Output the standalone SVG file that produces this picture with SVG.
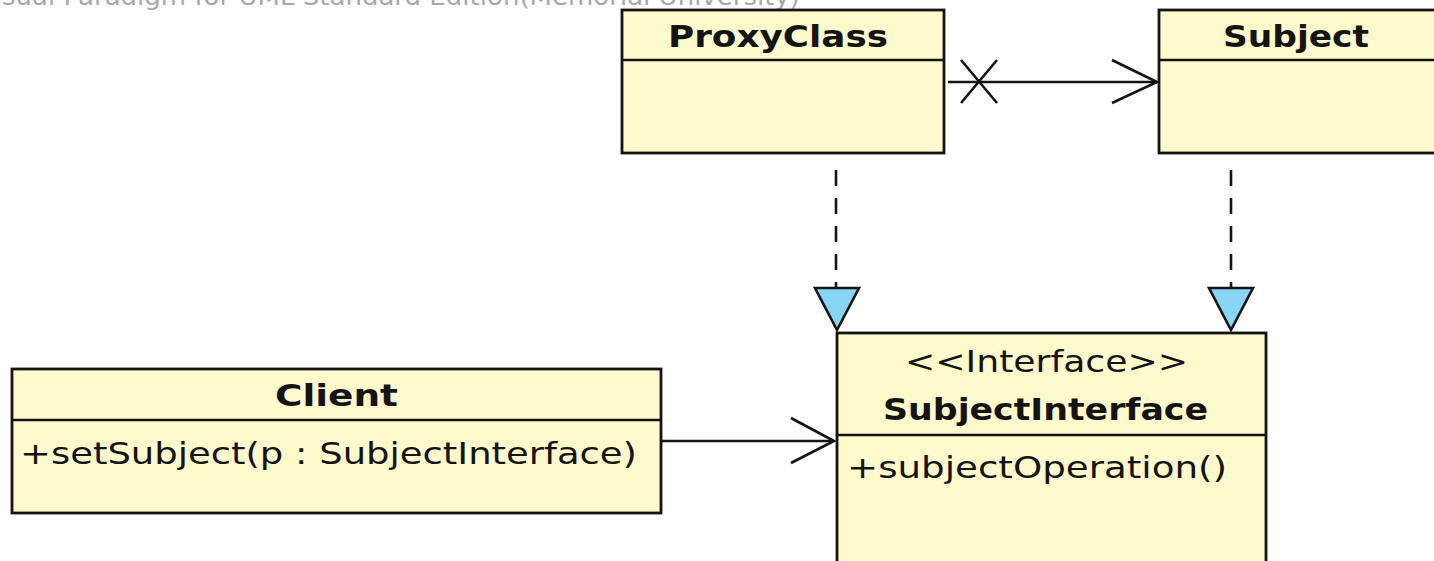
<svg xmlns="http://www.w3.org/2000/svg" width="1434" height="561" viewBox="0 0 1434 561">
  <defs>
    <style>
      .box { fill: #fffacb; stroke: #141414; stroke-width: 2.8; }
      .div { stroke: #141414; stroke-width: 2.5; }
      .t { font-family: "DejaVu Sans Condensed", "DejaVu Sans", sans-serif; font-size: 31px; fill: #141414; }
      .b { font-weight: bold; }
      .edge { fill: none; stroke: #141414; stroke-width: 2.6; }
      .dash { fill: none; stroke: #141414; stroke-width: 2.6; stroke-dasharray: 16 12; }
      .real { fill: #87d4f4; stroke: #141414; stroke-width: 2.6; stroke-linejoin: miter; }
      .wm { font-family: "DejaVu Sans", sans-serif; font-size: 24px; fill: #a8a8a8; }
    </style>
  </defs>
  <rect width="1434" height="561" fill="#ffffff"/>

  <!-- edition watermark, partly above the top edge -->
  <text class="wm" x="2" y="5" textLength="798" lengthAdjust="spacingAndGlyphs">sual Paradigm for UML Standard Edition(Memorial University)</text>

  <g id="ProxyClass">
    <rect class="box" x="622" y="10" width="322" height="143"/>
    <line class="div" x1="622" y1="60" x2="944" y2="60"/>
    <text class="t b" x="668" y="47" textLength="220" lengthAdjust="spacingAndGlyphs">ProxyClass</text>
  </g>

  <g id="Subject">
    <rect class="box" x="1159" y="10" width="290" height="143"/>
    <line class="div" x1="1159" y1="60" x2="1449" y2="60"/>
    <text class="t b" x="1223" y="47" textLength="146" lengthAdjust="spacingAndGlyphs">Subject</text>
  </g>

  <g id="SubjectInterface">
    <rect class="box" x="837" y="333" width="429" height="240"/>
    <line class="div" x1="837" y1="435" x2="1266" y2="435"/>
    <text class="t" x="905" y="372" textLength="283" lengthAdjust="spacingAndGlyphs">&lt;&lt;Interface&gt;&gt;</text>
    <text class="t b" x="883" y="420" textLength="325" lengthAdjust="spacingAndGlyphs">SubjectInterface</text>
    <text class="t" x="847" y="478" textLength="380" lengthAdjust="spacingAndGlyphs">+subjectOperation()</text>
  </g>

  <g id="Client">
    <rect class="box" x="12" y="369" width="649" height="144"/>
    <line class="div" x1="12" y1="420" x2="661" y2="420"/>
    <text class="t b" x="275" y="406" textLength="123" lengthAdjust="spacingAndGlyphs">Client</text>
    <text class="t" x="20" y="464" textLength="617" lengthAdjust="spacingAndGlyphs">+setSubject(p : SubjectInterface)</text>
  </g>

  <g id="connectors">
    <!-- ProxyClass to Subject: navigable association, non-navigable end marked with X -->
    <line class="edge" x1="948" y1="82" x2="1157" y2="82"/>
    <path class="edge" d="M961 60 L997 103 M961 103 L997 60"/>
    <path class="edge" d="M1112 60 L1157 82 L1112 103"/>

    <!-- realizations -->
    <line class="dash" x1="836" y1="170" x2="836" y2="288"/>
    <polygon class="real" points="815,288 859,288 837,330"/>
    <line class="dash" x1="1231" y1="170" x2="1231" y2="288"/>
    <polygon class="real" points="1209,288 1253,288 1231,330"/>

    <!-- Client to SubjectInterface -->
    <line class="edge" x1="662" y1="441" x2="834" y2="441"/>
    <path class="edge" d="M791 418 L834 441 L791 463"/>
  </g>
</svg>
